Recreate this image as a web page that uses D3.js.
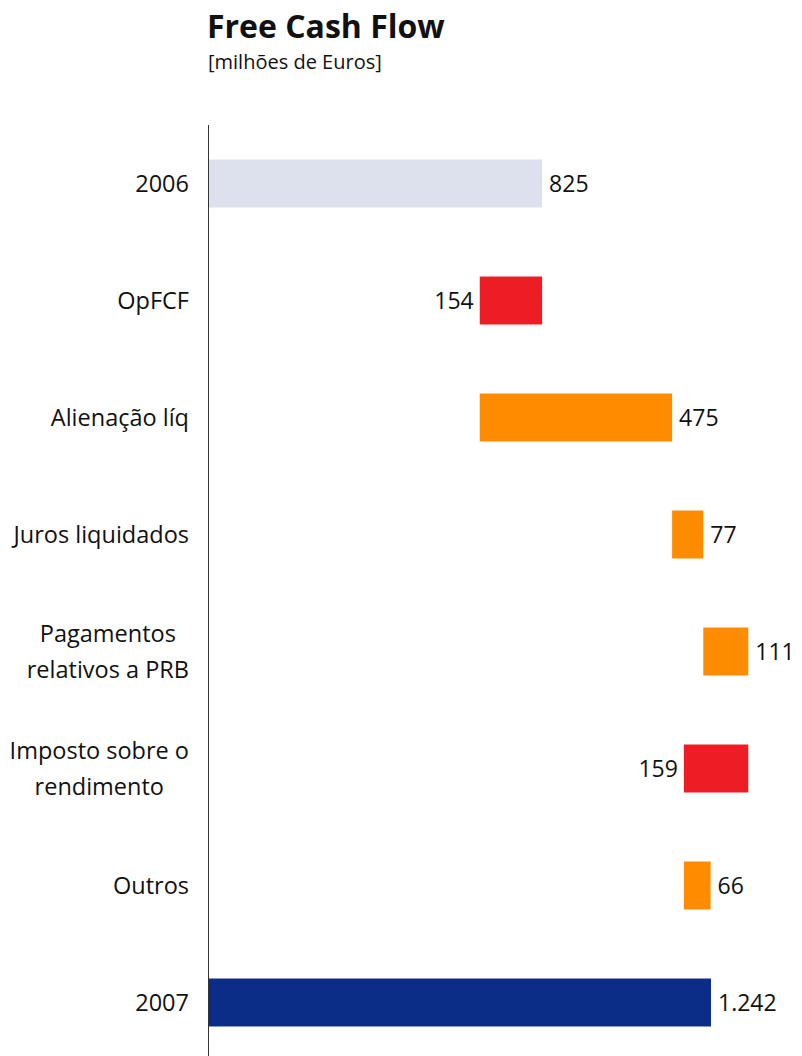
<!DOCTYPE html>
<html>
<head>
<meta charset="utf-8">
<script src="https://cdn.jsdelivr.net/npm/d3@7"></script>
<style>
  body { margin: 0; background: #fff; }
  svg text { font-family: "Open Sans", "DejaVu Sans", sans-serif; fill: #111; }
</style>
</head>
<body>
<svg id="chart" width="802" height="1056"></svg>
<script>
// categorie (righe del waterfall), con righe multiple dove serve
const categories = [
  ["2006"],
  ["OpFCF"],
  ["Alienação líq"],
  ["Juros liquidados"],
  ["Pagamentos", "relativos a PRB"],
  ["Imposto sobre o", "rendimento"],
  ["Outros"],
  ["2007"]
];
// valori: totale iniziale, variazioni, totale finale
const startValue = 825;
const deltas = [-154, 475, 77, 111, -159, 66];
const endValue = 1242;
const valueLabels = ["825", "154", "475", "77", "111", "159", "66", "1.242"];

const colors = { start: "#dde0ed", neg: "#ee1c25", pos: "#ff8c00", end: "#0b2d87" };

const svg = d3.select("#chart");
const axisX = 208;

// costruzione righe: inizio, fine, tipo
const rows = [];
rows.push({ a: 0, b: startValue, type: "start" });
let run = startValue;
deltas.forEach((d) => {
  rows.push({ a: run, b: run + d, type: d < 0 ? "neg" : "pos" });
  run += d;
});
rows.push({ a: 0, b: endValue, type: "end" });
rows.forEach((r, i) => { r.i = i; r.label = valueLabels[i]; r.cat = categories[i]; });

const x = d3.scaleLinear().domain([0, 1242]).range([axisX, 711]);
const y = d3.scaleBand().domain(d3.range(rows.length)).range([125, 1061]).paddingInner(0.59).paddingOuter(0.295);

// titolo
svg.append("text").attr("x", 207).attr("y", 38)
  .style("font-size", "32px").style("font-weight", "bold").text("Free Cash Flow");
svg.append("text").attr("x", 208).attr("y", 69)
  .style("font-size", "20px").text("[milhões de Euros]");

// barre
svg.selectAll(".bar").data(rows).enter().append("rect")
  .attr("x", (d) => x(Math.min(d.a, d.b)))
  .attr("width", (d) => Math.abs(x(d.b) - x(d.a)))
  .attr("y", (d) => y(d.i))
  .attr("height", y.bandwidth())
  .attr("fill", (d) => colors[d.type]);

// etichette valori
svg.selectAll(".val").data(rows).enter().append("text")
  .attr("x", (d) => d.type === "neg" ? x(d.b) - 6 : x(Math.max(d.a, d.b)) + 7)
  .attr("y", (d) => y(d.i) + y.bandwidth() / 2)
  .attr("dy", "0.38em")
  .attr("text-anchor", (d) => d.type === "neg" ? "end" : "start")
  .style("font-size", "23px")
  .text((d) => d.label);

// etichette categorie
const catG = svg.selectAll(".cat").data(rows).enter().append("text")
  .attr("text-anchor", "middle")
  .style("font-size", "23.5px");
catG.each(function (d) {
  const t = d3.select(this);
  const n = d.cat.length;
  const cy = y(d.i) + y.bandwidth() / 2;
  d.cat.forEach((line, k) => {
    t.append("tspan")
      .attr("x", 0)
      .attr("y", cy + (k - (n - 1) / 2) * 36)
      .attr("dy", "0.38em")
      .text(line);
  });
});
// allineamento a destra a x=189 (righe centrate tra loro)
catG.each(function () {
  const bb = this.getBBox();
  d3.select(this).attr("transform", `translate(${189 - bb.x - bb.width},0)`);
});

// asse verticale
svg.append("line").attr("x1", axisX + 0.5).attr("x2", axisX + 0.5)
  .attr("y1", 125).attr("y2", 1056).attr("stroke", "#333").attr("stroke-width", 1);
</script>
</body>
</html>
